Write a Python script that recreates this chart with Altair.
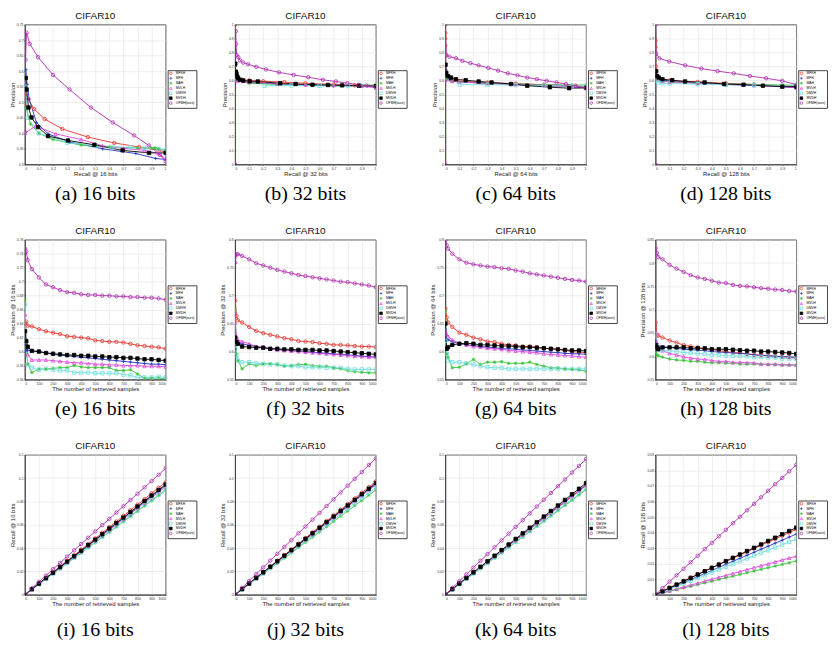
import altair as alt
import pandas as pd

METHODS = ["MFKH", "MFH", "MAH", "MVLH", "DMVH", "MVDH", "OFMH(ours)"]
COLORS = ["#e8322e", "#2233c0", "#3bc43b", "#e044e0", "#70dede", "#000000", "#b02ab0"]
FILLS = ["transparent", "transparent", "transparent", "transparent", "transparent", "#000000", "transparent"]
PLUS = "M-1,0L1,0M0,-1L0,1"
STAR = "M-1,0L1,0M0,-1L0,1M-0.7,-0.7L0.7,0.7M-0.7,0.7L0.7,-0.7"
SHAPES = ["circle", PLUS, STAR, "triangle-up", "square", "square", "circle"]

# ---------------- Row 1: precision-recall curves ----------------
PR16_R = {
    "MFKH": [0, 0.007, 0.024, 0.066, 0.141, 0.266, 0.447, 0.635, 0.812, 0.953, 1.0],
    "MFH": [0.007, 0.016, 0.031, 0.082, 0.165, 0.318, 0.553, 0.788, 0.929, 1.0],
    "MAH": [0.003, 0.01, 0.04, 0.1, 0.2, 0.4, 0.6, 0.8, 0.9, 0.92, 0.93, 0.95, 1.0],
    "MVLH": [0.0, 0.075, 0.22, 0.4, 0.55, 0.7, 0.85, 0.95, 1.0],
    "DMVH": [0.005, 0.02, 0.1, 0.3, 0.5, 0.62, 0.75, 0.85, 0.95, 1.0],
    "MVDH": [0.007, 0.012, 0.026, 0.047, 0.094, 0.165, 0.306, 0.494, 0.694, 0.882, 1.0],
    "OFMH(ours)": [0, 0.005, 0.012, 0.035, 0.094, 0.2, 0.318, 0.47, 0.624, 0.776, 0.88, 0.96, 1.0],
}
PR16_P = {
    "MFKH": [0.488, 0.527, 0.51, 0.478, 0.446, 0.414, 0.388, 0.369, 0.356, 0.345, 0.34],
    "MFH": [0.605, 0.557, 0.51, 0.435, 0.398, 0.372, 0.35, 0.335, 0.319, 0.316],
    "MAH": [0.58, 0.48, 0.43, 0.40, 0.38, 0.362, 0.356, 0.353, 0.352, 0.353, 0.352, 0.35, 0.345],
    "MVLH": [0.40, 0.423, 0.398, 0.38, 0.36, 0.352, 0.345, 0.335, 0.318],
    "DMVH": [0.55, 0.45, 0.40, 0.37, 0.36, 0.356, 0.355, 0.353, 0.35, 0.347],
    "MVDH": [0.578, 0.541, 0.483, 0.451, 0.42, 0.391, 0.377, 0.363, 0.345, 0.337, 0.337],
    "OFMH(ours)": [0.404, 0.637, 0.724, 0.688, 0.645, 0.588, 0.541, 0.483, 0.435, 0.393, 0.361, 0.33, 0.31],
}

PR32_R = {
    "MFKH": [0.002, 0.005, 0.02, 0.05, 0.1, 0.2, 0.35, 0.5, 0.7, 0.85, 1.0],
    "MFH": [0.002, 0.005, 0.01, 0.03, 0.1, 0.3, 0.5, 0.7, 0.9, 1.0],
    "MAH": [0.005, 0.01, 0.1, 0.3, 0.5, 0.7, 0.9, 1.0],
    "MVLH": [0, 0.02, 0.06, 0.1, 0.3, 0.5, 0.7, 0.9, 1.0],
    "DMVH": [0.21, 0.4, 0.6, 0.8, 1.0],
    "MVDH": [0.002, 0.005, 0.01, 0.016, 0.023, 0.035, 0.058, 0.104, 0.162, 0.32, 0.43, 0.55, 0.66, 0.76, 0.88, 1.0],
    "OFMH(ours)": [0, 0, 0.005, 0.007, 0.012, 0.023, 0.035, 0.058, 0.092, 0.15, 0.219, 0.312, 0.416, 0.52, 0.624, 0.716, 0.797, 0.878, 0.935, 1.0],
}
PR32_P = {
    "MFKH": [0.66, 0.63, 0.615, 0.605, 0.6, 0.595, 0.588, 0.58, 0.572, 0.565, 0.555],
    "MFH": [0.7, 0.66, 0.63, 0.6, 0.585, 0.575, 0.567, 0.562, 0.56, 0.555],
    "MAH": [0.62, 0.6, 0.58, 0.572, 0.568, 0.565, 0.567, 0.568],
    "MVLH": [0.6, 0.597, 0.595, 0.59, 0.578, 0.57, 0.565, 0.56, 0.548],
    "DMVH": [0.562, 0.565, 0.562, 0.56, 0.558],
    "MVDH": [0.72, 0.663, 0.65, 0.628, 0.615, 0.605, 0.6, 0.595, 0.593, 0.58, 0.575, 0.57, 0.568, 0.565, 0.563, 0.56],
    "OFMH(ours)": [0, 1.0, 0.953, 0.86, 0.78, 0.767, 0.744, 0.728, 0.716, 0.698, 0.679, 0.658, 0.64, 0.623, 0.605, 0.593, 0.581, 0.57, 0.563, 0.553],
}

PR64_R = {
    "MFKH": [0, 0, 0, 0.002, 0.005, 0.01, 0.05, 0.1, 0.3, 0.5, 0.7, 0.9, 1.0],
    "MFH": [0.003, 0.01, 0.03, 0.1, 0.3, 0.5, 0.7, 0.9, 1.0],
    "MAH": [0.005, 0.05, 0.1, 0.3, 0.5, 0.7, 0.9, 1.0],
    "MVLH": [0, 0.05, 0.1, 0.3, 0.5, 0.7, 0.9, 1.0],
    "DMVH": [0.105, 0.3, 0.5, 0.7, 0.9, 1.0],
    "MVDH": [0.002, 0.007, 0.018, 0.041, 0.076, 0.145, 0.237, 0.329, 0.467, 0.582, 0.743, 0.88, 1.0],
    "OFMH(ours)": [0, 0, 0.007, 0.03, 0.076, 0.122, 0.179, 0.237, 0.306, 0.375, 0.444, 0.513, 0.582, 0.651, 0.72, 0.79, 0.857, 0.926, 1.0],
}
PR64_P = {
    "MFKH": [0.94, 0.9, 0.85, 0.78, 0.66, 0.62, 0.6, 0.595, 0.585, 0.578, 0.57, 0.562, 0.555],
    "MFH": [0.68, 0.64, 0.61, 0.59, 0.58, 0.572, 0.563, 0.555, 0.55],
    "MAH": [0.61, 0.595, 0.59, 0.58, 0.575, 0.57, 0.568, 0.568],
    "MVLH": [0.6, 0.595, 0.59, 0.58, 0.572, 0.565, 0.555, 0.548],
    "DMVH": [0.57, 0.57, 0.567, 0.563, 0.56, 0.558],
    "MVDH": [0.713, 0.655, 0.632, 0.621, 0.609, 0.602, 0.593, 0.586, 0.575, 0.563, 0.552, 0.545, 0.547],
    "OFMH(ours)": [0, 1.0, 0.782, 0.77, 0.759, 0.74, 0.724, 0.708, 0.69, 0.671, 0.651, 0.637, 0.621, 0.609, 0.598, 0.586, 0.575, 0.563, 0.545],
}

PR128_R = {
    "MFKH": [0, 0, 0.002, 0.005, 0.02, 0.1, 0.3, 0.5, 0.7, 0.9, 1.0],
    "MFH": [0.003, 0.01, 0.03, 0.1, 0.3, 0.5, 0.7, 0.9, 1.0],
    "MAH": [0.005, 0.05, 0.1, 0.3, 0.5, 0.7, 0.9, 1.0],
    "MVLH": [0, 0.05, 0.1, 0.3, 0.5, 0.7, 0.9, 1.0],
    "DMVH": [0.005, 0.02, 0.05, 0.1, 0.3, 0.5, 0.7, 0.9, 1.0],
    "MVDH": [0.005, 0.011, 0.023, 0.05, 0.119, 0.21, 0.349, 0.487, 0.625, 0.763, 0.901, 1.0],
    "OFMH(ours)": [0, 0, 0.005, 0.028, 0.097, 0.211, 0.326, 0.441, 0.556, 0.671, 0.786, 0.9, 1.0],
}
PR128_P = {
    "MFKH": [0.885, 0.839, 0.7, 0.63, 0.61, 0.6, 0.59, 0.58, 0.572, 0.562, 0.555],
    "MFH": [0.66, 0.63, 0.61, 0.595, 0.58, 0.572, 0.565, 0.556, 0.55],
    "MAH": [0.6, 0.595, 0.592, 0.582, 0.576, 0.571, 0.568, 0.566],
    "MVLH": [0.6, 0.595, 0.59, 0.58, 0.572, 0.565, 0.555, 0.548],
    "DMVH": [0.6, 0.585, 0.58, 0.578, 0.574, 0.57, 0.566, 0.562, 0.56],
    "MVDH": [0.667, 0.632, 0.621, 0.609, 0.602, 0.593, 0.586, 0.575, 0.57, 0.563, 0.556, 0.556],
    "OFMH(ours)": [0, 1.0, 0.793, 0.759, 0.736, 0.708, 0.685, 0.667, 0.651, 0.632, 0.616, 0.598, 0.57],
}

# ---------------- Row 2: precision @ N ----------------
N2 = [1, 10, 20, 50, 100, 150, 200, 250, 300, 350, 400, 450, 500, 550, 600, 650, 700, 750, 800, 850, 900, 950, 1000]
PN16 = {
    "MFKH": [.640, .643, .637, .636, .632, .629, .627, .625, .622, .621, .620, .619, .616, .615, .614, .614, .613, .611, .609, .608, .607, .606, .604],
    "MFH": [.610, .602, .602, .601, .600, .598, .596, .595, .594, .593, .592, .591, .590, .589, .588, .587, .586, .585, .584, .583, .582, .582, .581],
    "MAH": [.674, .606, .582, .570, .575, .575, .576, .577, .577, .580, .578, .577, .577, .577, .577, .573, .573, .574, .568, .562, .562, .562, .561],
    "MVLH": [.653, .615, .596, .588, .588, .588, .587, .586, .585, .584, .584, .583, .582, .582, .581, .581, .580, .580, .580, .579, .579, .579, .578],
    "DMVH": [.667, .615, .582, .577, .574, .575, .574, .573, .573, .570, .570, .570, .569, .569, .569, .569, .567, .566, .563, .563, .563, .564, .563],
    "MVDH": [.629, .615, .607, .601, .600, .598, .597, .596, .595, .595, .594, .594, .593, .593, .592, .592, .591, .591, .590, .589, .589, .588, .587],
    "OFMH(ours)": [.747, .743, .731, .718, .706, .696, .692, .688, .685, .684, .682, .681, .681, .680, .680, .679, .679, .678, .678, .677, .677, .676, .674],
}
PN32 = {
    "MFKH": [.691, .664, .656, .652, .644, .637, .633, .630, .627, .624, .622, .619, .618, .617, .615, .614, .612, .612, .611, .610, .609, .609, .608],
    "MFH": [.605, .617, .614, .614, .611, .609, .607, .605, .604, .603, .602, .601, .600, .599, .598, .597, .596, .595, .594, .593, .592, .591, .590],
    "MAH": [.675, .596, .584, .569, .578, .575, .578, .578, .577, .574, .575, .577, .577, .575, .574, .574, .571, .569, .566, .564, .563, .562, .562],
    "MVLH": [.652, .627, .621, .618, .614, .609, .608, .605, .603, .602, .601, .600, .599, .598, .597, .596, .595, .594, .593, .592, .591, .590, .590],
    "DMVH": [.610, .593, .584, .581, .581, .579, .578, .577, .577, .575, .574, .574, .572, .572, .572, .571, .571, .571, .569, .568, .568, .568, .568],
    "MVDH": [.625, .617, .614, .609, .608, .607, .607, .605, .605, .604, .604, .603, .603, .603, .602, .602, .601, .600, .599, .598, .597, .596, .595],
    "OFMH(ours)": [.759, .774, .774, .771, .765, .758, .754, .750, .746, .743, .740, .737, .735, .733, .731, .729, .727, .725, .724, .722, .720, .718, .715],
}
PN64 = {
    "MFKH": [.677, .661, .652, .644, .634, .630, .625, .622, .618, .617, .614, .612, .611, .609, .609, .608, .606, .605, .604, .602, .600, .599, .598],
    "MFH": [.640, .622, .621, .618, .614, .612, .611, .609, .608, .607, .605, .605, .604, .603, .602, .601, .600, .599, .598, .597, .596, .596, .595],
    "MAH": [.672, .596, .590, .571, .572, .578, .586, .577, .581, .581, .582, .579, .579, .579, .581, .577, .574, .571, .571, .569, .568, .567, .565],
    "MVLH": [.637, .631, .627, .621, .615, .612, .609, .608, .606, .605, .604, .602, .601, .600, .599, .598, .596, .595, .594, .593, .592, .591, .590],
    "DMVH": [.619, .596, .584, .581, .581, .579, .577, .574, .572, .571, .571, .569, .569, .569, .569, .569, .569, .569, .569, .569, .569, .569, .569],
    "MVDH": [.650, .605, .608, .612, .614, .615, .614, .612, .612, .611, .610, .610, .609, .608, .608, .607, .606, .605, .604, .603, .602, .602, .601],
    "OFMH(ours)": [.799, .790, .784, .775, .765, .759, .756, .754, .752, .751, .749, .748, .745, .743, .740, .738, .736, .734, .732, .730, .728, .727, .725],
}
PN128 = {
    "MFKH": [.672, .646, .644, .640, .634, .629, .624, .621, .619, .615, .614, .612, .610, .608, .607, .605, .603, .602, .601, .600, .599, .598, .596],
    "MFH": [.633, .626, .622, .620, .619, .617, .615, .614, .613, .612, .610, .609, .608, .607, .606, .605, .603, .602, .601, .600, .599, .599, .598],
    "MAH": [.608, .603, .601, .598, .594, .592, .591, .589, .589, .587, .586, .586, .585, .585, .583, .583, .583, .583, .582, .582, .581, .581, .581],
    "MVLH": [.651, .629, .619, .612, .606, .603, .599, .596, .594, .593, .591, .589, .589, .587, .587, .586, .586, .583, .583, .583, .582, .582, .581],
    "DMVH": [.647, .622, .615, .613, .612, .610, .608, .607, .606, .605, .603, .603, .601, .601, .600, .600, .598, .598, .597, .597, .595, .595, .594],
    "MVDH": [.624, .619, .615, .619, .619, .619, .619, .617, .617, .617, .615, .615, .615, .614, .613, .612, .612, .610, .610, .609, .608, .607, .605],
    "OFMH(ours)": [.832, .822, .813, .808, .796, .788, .781, .774, .769, .766, .762, .758, .757, .753, .751, .750, .748, .746, .745, .743, .742, .740, .739],
}

# ---------------- Row 3: recall @ N ----------------
N3 = [1, 50, 100, 150, 200, 250, 300, 350, 400, 450, 500, 550, 600, 650, 700, 750, 800, 850, 900, 950, 1000]
RN16 = {
    "MFKH": [0, .0048, .0097, .0145, .0194, .0242, .0290, .0338, .0387, .0435, .0483, .0531, .0580, .0628, .0676, .0725, .0773, .0821, .0870, .0918, .0966],
    "MFH": [0, .0047, .0094, .0141, .0188, .0235, .0281, .0328, .0375, .0422, .0469, .0516, .0563, .0610, .0657, .0704, .0750, .0797, .0844, .0891, .0938],
    "MAH": [0, .0045, .0090, .0134, .0179, .0224, .0269, .0314, .0358, .0403, .0448, .0493, .0538, .0582, .0627, .0672, .0717, .0762, .0806, .0851, .0896],
    "MVLH": [0, .0046, .0093, .0139, .0185, .0232, .0278, .0324, .0371, .0417, .0464, .0510, .0556, .0603, .0649, .0695, .0742, .0788, .0834, .0881, .0927],
    "DMVH": [0, .0045, .0090, .0136, .0181, .0226, .0271, .0316, .0362, .0407, .0452, .0497, .0542, .0588, .0633, .0678, .0723, .0768, .0814, .0859, .0904],
    "MVDH": [0, .0047, .0095, .0142, .0189, .0237, .0284, .0331, .0378, .0426, .0473, .0520, .0568, .0615, .0662, .0710, .0757, .0804, .0851, .0899, .0946],
    "OFMH(ours)": [0, .0055, .0110, .0164, .0219, .0273, .0327, .0381, .0435, .0489, .0543, .0597, .0651, .0705, .0759, .0813, .0867, .0921, .0975, .1030, .1085],
}
RN32 = {
    "MFKH": [0, .0049, .0097, .0146, .0194, .0243, .0292, .0340, .0389, .0437, .0486, .0535, .0583, .0632, .0680, .0729, .0778, .0826, .0875, .0923, .0972],
    "MFH": [0, .0048, .0095, .0143, .0190, .0238, .0285, .0333, .0380, .0428, .0475, .0523, .0570, .0618, .0665, .0713, .0760, .0808, .0855, .0903, .0950],
    "MAH": [0, .0045, .0090, .0135, .0180, .0225, .0270, .0315, .0360, .0405, .0450, .0494, .0539, .0584, .0629, .0674, .0719, .0764, .0809, .0854, .0899],
    "MVLH": [0, .0047, .0094, .0142, .0189, .0236, .0283, .0330, .0378, .0425, .0472, .0519, .0566, .0614, .0661, .0708, .0755, .0802, .0850, .0897, .0944],
    "DMVH": [0, .0046, .0092, .0138, .0184, .0230, .0276, .0322, .0368, .0414, .0461, .0507, .0553, .0599, .0645, .0691, .0737, .0783, .0829, .0875, .0921],
    "MVDH": [0, .0048, .0096, .0144, .0192, .0240, .0287, .0335, .0383, .0431, .0479, .0527, .0575, .0623, .0671, .0719, .0766, .0814, .0862, .0910, .0958],
    "OFMH(ours)": [0, .0059, .0117, .0176, .0234, .0293, .0351, .0410, .0468, .0527, .0585, .0644, .0702, .0761, .0819, .0878, .0936, .0995, .1053, .1112, .1170],
}
RN64 = {
    "MFKH": [0, .0047, .0094, .0142, .0189, .0236, .0283, .0330, .0378, .0425, .0472, .0519, .0566, .0614, .0661, .0708, .0755, .0802, .0850, .0897, .0944],
    "MFH": [0, .0047, .0094, .0141, .0188, .0235, .0281, .0328, .0375, .0422, .0469, .0516, .0563, .0610, .0657, .0704, .0750, .0797, .0844, .0891, .0938],
    "MAH": [0, .0045, .0090, .0135, .0180, .0225, .0270, .0315, .0360, .0405, .0451, .0496, .0541, .0586, .0631, .0676, .0721, .0766, .0811, .0856, .0901],
    "MVLH": [0, .0047, .0094, .0140, .0187, .0234, .0281, .0327, .0374, .0421, .0468, .0514, .0561, .0608, .0655, .0701, .0748, .0795, .0842, .0888, .0935],
    "DMVH": [0, .0046, .0091, .0137, .0182, .0228, .0273, .0319, .0364, .0410, .0455, .0501, .0546, .0592, .0637, .0683, .0728, .0774, .0819, .0865, .0910],
    "MVDH": [0, .0048, .0096, .0144, .0192, .0240, .0287, .0335, .0383, .0431, .0479, .0527, .0575, .0623, .0671, .0719, .0766, .0814, .0862, .0910, .0958],
    "OFMH(ours)": [0, .0058, .0116, .0175, .0233, .0291, .0349, .0407, .0466, .0524, .0582, .0640, .0698, .0757, .0815, .0873, .0931, .0989, .1048, .1106, .1164],
}
RN128 = {
    "MFKH": [0, .0023, .0045, .0067, .0089, .0110, .0131, .0152, .0173, .0194, .0214, .0235, .0256, .0276, .0297, .0318, .0339, .0359, .0380, .0400, .0421],
    "MFH": [0, .0020, .0039, .0059, .0078, .0098, .0117, .0137, .0156, .0176, .0195, .0215, .0234, .0254, .0273, .0293, .0312, .0332, .0351, .0371, .0390],
    "MAH": [0, .0011, .0022, .0033, .0043, .0054, .0065, .0076, .0087, .0098, .0109, .0119, .0130, .0141, .0152, .0163, .0174, .0184, .0195, .0206, .0217],
    "MVLH": [0, .0012, .0025, .0037, .0050, .0062, .0074, .0087, .0099, .0112, .0124, .0136, .0149, .0161, .0174, .0186, .0198, .0211, .0223, .0236, .0248],
    "DMVH": [0, .0018, .0036, .0054, .0072, .0090, .0107, .0125, .0143, .0161, .0179, .0197, .0215, .0233, .0251, .0269, .0286, .0304, .0322, .0340, .0358],
    "MVDH": [0, .0022, .0043, .0065, .0086, .0108, .0130, .0151, .0173, .0194, .0216, .0238, .0259, .0281, .0302, .0324, .0346, .0367, .0389, .0410, .0432],
    "OFMH(ours)": [0, .0042, .0084, .0125, .0167, .0209, .0251, .0293, .0334, .0376, .0418, .0460, .0502, .0543, .0585, .0627, .0669, .0711, .0752, .0794, .0836],
}

BITS = [16, 32, 64, 128]
LETTERS = "abcdefghijkl"
W, H = 142, 141


def frame_xy(R, P):
    rows = []
    for m in METHODS:
        assert len(R[m]) == len(P[m]), m
        for i, (x, y) in enumerate(zip(R[m], P[m])):
            rows.append({"method": m, "x": x, "y": y, "i": i})
    return pd.DataFrame(rows)


def frame_n(N, V):
    rows = []
    for m in METHODS:
        assert len(V[m]) == len(N), m
        for i, (x, y) in enumerate(zip(N, V[m])):
            rows.append({"method": m, "x": x, "y": y, "i": i})
    return pd.DataFrame(rows)


def ticks(lo, hi, step):
    n = int(round((hi - lo) / step))
    return [round(lo + k * step, 4) for k in range(n + 1)]


def legend():
    return alt.Legend(
        title=None, orient="none", legendX=W + 2, legendY=46,
        fillColor="white", strokeColor="#444", padding=1.2,
        labelFontSize=3.4, labelFont="Liberation Sans", labelOffset=3,
        symbolSize=7, symbolStrokeWidth=0.7, rowPadding=-2,
        labelLimit=30,
    )


def panel(df, xdom, xt, xfmt, ydom, yt, xtitle, ytitle, caption, cap_off):
    x = alt.X("x:Q", scale=alt.Scale(domain=xdom, nice=False, zero=False),
              axis=alt.Axis(values=xt, title=xtitle, format=xfmt))
    y = alt.Y("y:Q", scale=alt.Scale(domain=ydom, nice=False, zero=False),
              axis=alt.Axis(values=yt, title=ytitle, format="~g"))
    color = alt.Color("method:N", scale=alt.Scale(domain=METHODS, range=COLORS), legend=legend())
    shape = alt.Shape("method:N", scale=alt.Scale(domain=METHODS, range=SHAPES), legend=legend())
    fill = alt.Fill("method:N", scale=alt.Scale(domain=METHODS, range=FILLS), legend=None)
    base = alt.Chart(df)
    lines = base.mark_line(strokeWidth=0.9, clip=True).encode(
        x=x, y=y, color=color, detail="method:N", order="i:Q")
    pts = base.mark_point(filled=False, size=12, strokeWidth=0.8, clip=True, opacity=1).encode(
        x=x, y=y, color=color, shape=shape, fill=fill)
    cap = alt.Chart(pd.DataFrame({"t": [caption]})).mark_text(
        font="Liberation Serif", fontSize=20, baseline="middle", align="center", color="black"
    ).encode(text="t:N", x=alt.value(W / 2), y=alt.value(H + cap_off))
    return alt.layer(lines, pts, cap).properties(
        width=W, height=H,
        title=alt.TitleParams("CIFAR10", frame="group", anchor="middle"))


panels = []
pr = [(PR16_R, PR16_P), (PR32_R, PR32_P), (PR64_R, PR64_P), (PR128_R, PR128_P)]
for k, (R, P) in enumerate(pr):
    b = BITS[k]
    ydom = [0.3, 0.75] if b == 16 else [0, 1]
    yt = ticks(0.3, 0.75, 0.05) if b == 16 else ticks(0, 1, 0.1)
    panels.append(panel(frame_xy(R, P), [0, 1], ticks(0, 1, 0.1), "~g", ydom, yt,
                        f"Recall @ {b} bits", "Precision", f"({LETTERS[k]}) {b} bits", 30))

pn = [PN16, PN32, PN64, PN128]
pdoms = [([0.56, 0.76], 0.02), ([0.55, 0.8], 0.05), ([0.55, 0.8], 0.05), ([0.55, 0.85], 0.05)]
for k, V in enumerate(pn):
    b = BITS[k]
    d, s = pdoms[k]
    panels.append(panel(frame_n(N2, V), [0, 1000], ticks(0, 1000, 100), "d", d, ticks(d[0], d[1], s),
                        "The number of retrieved samples", f"Precision @ {b} bits",
                        f"({LETTERS[4 + k]}) {b} bits", 30))

rn = [RN16, RN32, RN64, RN128]
rdoms = [([0, 0.12], 0.02), ([0, 0.12], 0.02), ([0, 0.12], 0.02), ([0, 0.09], 0.01)]
for k, V in enumerate(rn):
    b = BITS[k]
    d, s = rdoms[k]
    panels.append(panel(frame_n(N3, V), [0, 1000], ticks(0, 1000, 100), "d", d, ticks(d[0], d[1], s),
                        "The number of retrieved samples", f"Recall @ {b} bits",
                        f"({LETTERS[8 + k]}) {b} bits", 36))

chart = alt.concat(
    *panels, columns=4, spacing={"row": 76, "column": 70}, bounds="flush"
).resolve_scale(
    x="independent", y="independent", color="independent", shape="independent", fill="independent"
).resolve_legend(
    color="independent", shape="independent"
).configure_view(
    stroke="#000", strokeWidth=0.8
).configure_axis(
    labelFontSize=3.5, titleFontSize=6, labelFont="Liberation Sans", titleFont="Liberation Sans",
    titleFontWeight="normal", tickSize=1, tickColor="#000", tickWidth=0.5,
    domainColor="#000", domainWidth=0.6, gridColor="#e2e2e2", gridWidth=0.6,
    labelPadding=0.8, titlePadding=1, labelColor="#333", titleColor="#222",
).configure_title(
    fontSize=10, font="Liberation Sans", fontWeight="normal", offset=1.5, color="#111"
).properties(padding=0, background="white")

chart.save("out.html", embed_options={"renderer": "svg", "actions": False})
